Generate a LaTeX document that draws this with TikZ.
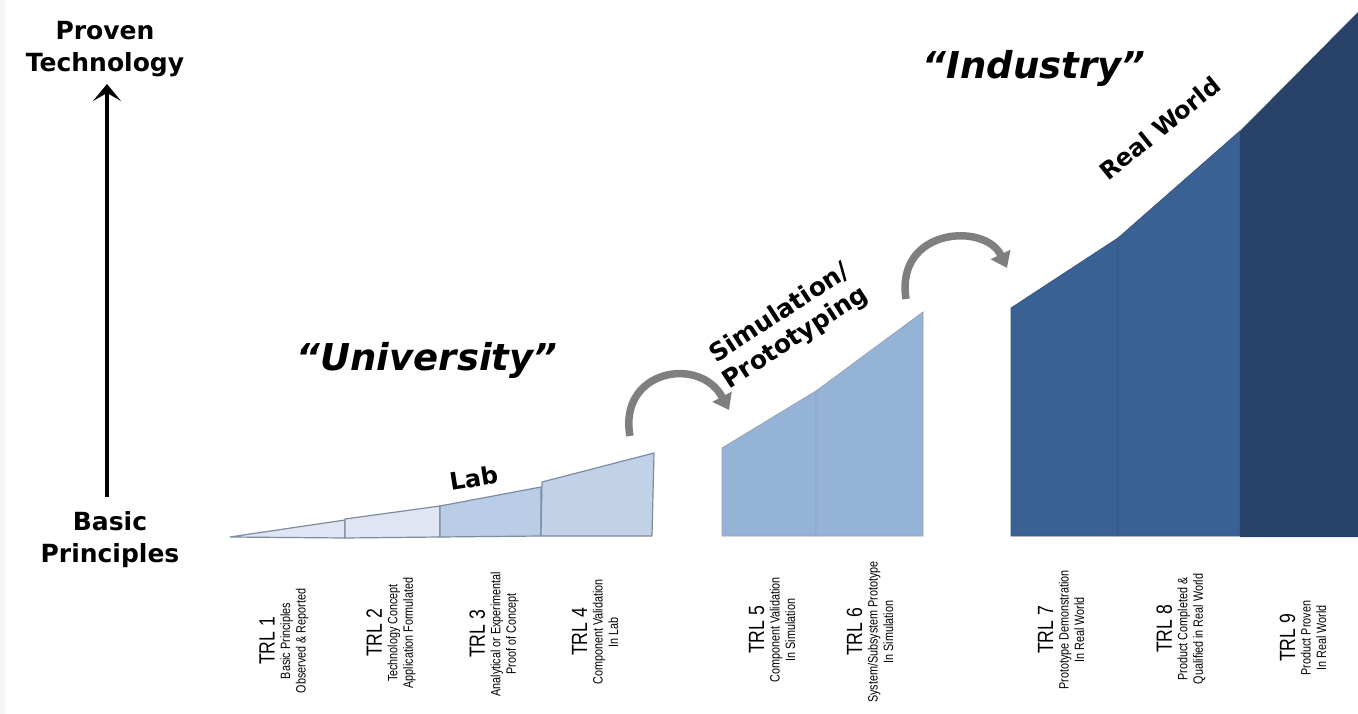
\documentclass[tikz,border=0pt]{standalone}
\usepackage{fontspec}
\usetikzlibrary{arrows.meta}
\newfontfamily\dvs{DejaVu Sans}
\newfontfamily\narrowf[FakeStretch=0.80]{Liberation Sans}
\definecolor{labA}{HTML}{DFE5F1}
\definecolor{labB}{HTML}{BACDE6}
\definecolor{simC}{HTML}{95B3D7}
\definecolor{indD}{HTML}{3A6194}
\definecolor{indE}{HTML}{28426A}
\definecolor{segline}{HTML}{7F8BA0}
\definecolor{arrgray}{HTML}{7F7F7F}
\tikzset{
  labseg/.style={draw=segline, line width=1.2pt, line join=round},
  simseg/.style={draw=segline!80, line width=0.8pt, fill=simC},
  indseg/.style={draw=indE!90, line width=0.8pt},
  bigtitle/.style={font=\dvs\bfseries\itshape\fontsize{37}{40}\selectfont},
  zonelabel/.style={font=\dvs\bfseries\fontsize{24}{29}\selectfont, align=center},
  axislabel/.style={font=\dvs\bfseries\fontsize{25}{32}\selectfont, align=center},
  trl/.style={rotate=90, align=center, font=\narrowf\fontsize{13.5}{15.5}\selectfont, inner sep=0pt},
  hop/.style={draw=arrgray, line width=7.5pt, -{Triangle[length=15pt,width=21pt]}},
  axisarrow/.style={draw=black, line width=4pt, -{Stealth[length=17pt,width=28pt,inset=8pt]}}
}
\newcommand{\trlhead}[1]{{\fontsize{22}{24}\selectfont #1}}
\begin{document}
\begin{tikzpicture}[x=1pt,y=-1pt]
\useasboundingbox (0,0) rectangle (1358,714);
\fill[white] (0,0) rectangle (1358,714);
\fill[black!4] (0,0) rectangle (5,714);

% ---- Lab segments
\path[labseg, fill=labA] (230,537) -- (345,520) -- (345,538) -- cycle;
\path[labseg, fill=labA] (345,519) -- (440,506) -- (440,537) -- (345,538) -- cycle;
\path[labseg, fill=labB] (440,506) -- (541,487) -- (541,536) -- (440,537) -- cycle;
\path[labseg, fill=labB!92!white] (542,482) -- (654,453) -- (652,536) -- (541,536) -- cycle;

% ---- Simulation segments
\path[simseg] (722,448) -- (816,391) -- (816,536) -- (722,536) -- cycle;
\path[simseg] (816,391) -- (923,312) -- (923,536) -- (816,536) -- cycle;

% ---- Industry segments
\path[indseg, fill=indD] (1011,308) -- (1118,238) -- (1118,536) -- (1011,536) -- cycle;
\path[indseg, fill=indD] (1118,238) -- (1240,131) -- (1240,536) -- (1118,536) -- cycle;
\path[fill=indE] (1240,131) -- (1358,12) -- (1358,537) -- (1240,537) -- cycle;

% ---- hop arrows
\coordinate (h1s) at (630,436);
\coordinate (h1e) at (729,410);
\coordinate (h2s) at (906,299);
\coordinate (h2e) at (1007,268);
\draw[hop] (h1s) .. controls (618,370) and (700,355) .. (h1e);
\draw[hop] (h2s) .. controls (895,228) and (985,222) .. (h2e);

% ---- axis
\node[axislabel] (proven) at (105,49) {Proven\\Technology};
\node[axislabel] (basic) at (110,540) {Basic\\Principles};
\coordinate (axbot) at (107,497);
\coordinate (axtop) at (107,84);
\draw[axisarrow] (axbot) -- (axtop);

% ---- titles
\node[bigtitle] (univ) at (427,360) {“University”};
\node[bigtitle] (indus) at (1034,68) {“Industry”};
\node[zonelabel, rotate=9] (lab) at (474,478) {Lab};
\node[zonelabel, rotate=33, font=\dvs\bfseries\fontsize{25}{29}\selectfont] (sim) at (788,326) {Simulation/\\Prototyping};
\node[zonelabel, rotate=39] (real) at (1160,128) {Real World};

% ---- TRL labels
\node[trl] (t1) at (284,641) {\trlhead{TRL 1}\\Basic Principles\\Observed \& Reported};
\node[trl] (t2) at (391,633) {\trlhead{TRL 2}\\Technology Concept\\Application Formulated};
\node[trl] (t3) at (494,634) {\trlhead{TRL 3}\\Analytical or Experimental\\Proof of Concept};
\node[trl] (t4) at (595,632) {\trlhead{TRL 4}\\Component Validation\\In Lab};
\node[trl] (t5) at (772,630) {\trlhead{TRL 5}\\Component Validation\\In Simulation};
\node[trl] (t6) at (870,632) {\trlhead{TRL 6}\\System/Subsystem Prototype\\In Simulation};
\node[trl] (t7) at (1061,630) {\trlhead{TRL 7}\\Prototype Demonstration\\In Real World};
\node[trl] (t8) at (1181,629) {\trlhead{TRL 8}\\Product Completed \&\\Qualified in Real World};
\node[trl] (t9) at (1303,638) {\trlhead{TRL 9}\\Product Proven\\In Real World};
\end{tikzpicture}
\end{document}
